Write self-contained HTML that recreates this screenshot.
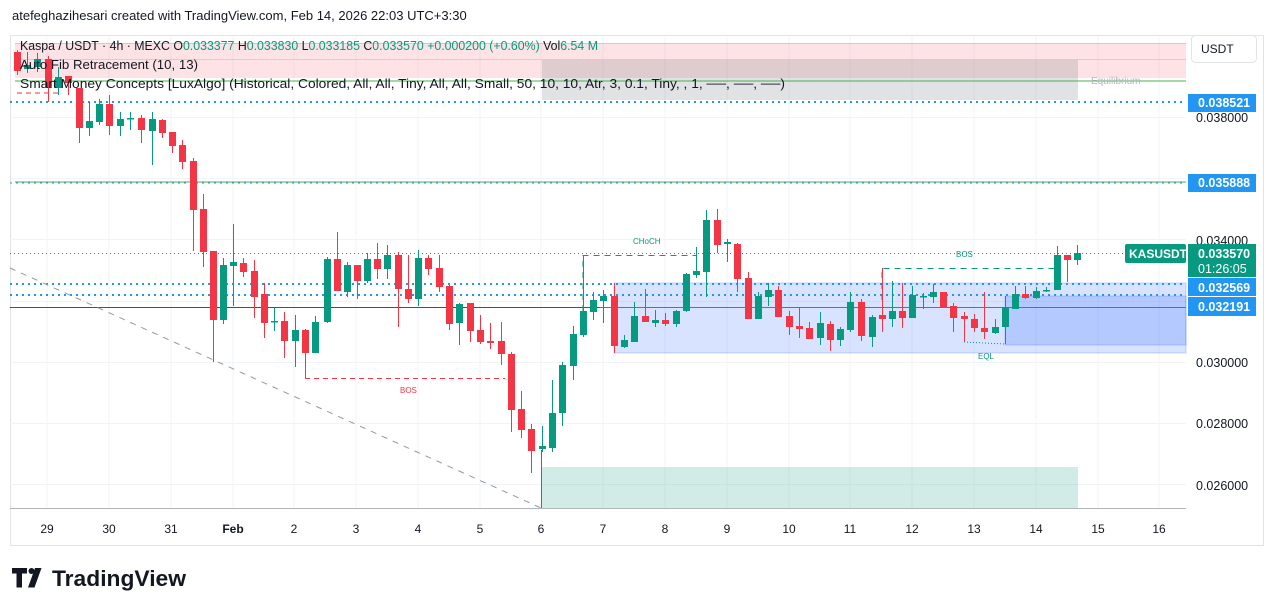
<!DOCTYPE html>
<html><head><meta charset="utf-8"><style>
body{margin:0;width:1272px;height:610px;background:#fff;font-family:"Liberation Sans",sans-serif;overflow:hidden;position:relative}
svg{position:absolute;left:0;top:0}
</style></head><body>
<svg id="s" width="1272" height="610" xmlns="http://www.w3.org/2000/svg" font-family="Liberation Sans, sans-serif">
<text x="12" y="20" font-size="13" fill="#131722">atefeghazihesari created with TradingView.com, Feb 14, 2026 22:03 UTC+3:30</text>
<rect x="10.5" y="35.5" width="1253" height="510" fill="none" stroke="#e0e3eb"/>
<g id="grid" stroke="#f0f3fa" stroke-width="1"></g>
<rect x="15" y="43" width="1171" height="35" fill="rgba(242,54,69,0.14)"/>
<line x1="15" y1="43.5" x2="1186" y2="43.5" stroke="rgba(242,54,69,0.25)"/>
<line x1="15" y1="59.5" x2="1186" y2="59.5" stroke="rgba(242,54,69,0.2)"/>
<rect x="542" y="60" width="536" height="40" fill="rgba(120,123,134,0.22)"/>
<line x1="15" y1="81" x2="1186" y2="81" stroke="#4caf50" stroke-width="1"/>
<text x="1091" y="84" font-size="10" fill="#b2b5be">Equilibrium</text>
<line x1="15" y1="182" x2="1186" y2="182" stroke="#4caf50" stroke-width="1"/>
<line x1="10" y1="102" x2="1186" y2="102" stroke="#2196f3" stroke-width="2" stroke-dasharray="2 4"/>
<line x1="10" y1="183" x2="1186" y2="183" stroke="#2196f3" stroke-width="1" stroke-dasharray="2 4"/>
<line x1="17" y1="93" x2="62" y2="93" stroke="#f23645" stroke-dasharray="5 4"/>
<rect x="614" y="283" width="572" height="70" fill="rgba(41,98,255,0.18)" stroke="rgba(41,98,255,0.25)"/>
<rect x="1005" y="296" width="181" height="49" fill="rgba(41,98,255,0.2)" stroke="rgba(41,98,255,0.25)"/>
<rect x="542" y="467" width="536" height="41" fill="rgba(8,153,129,0.19)"/>
<line x1="10" y1="284" x2="1186" y2="284" stroke="#2196f3" stroke-width="2" stroke-dasharray="2 4"/>
<line x1="10" y1="295" x2="1186" y2="295" stroke="#2196f3" stroke-width="2" stroke-dasharray="2 4"/>
<line x1="10" y1="307.5" x2="1186" y2="307.5" stroke="#5d4a4c" stroke-width="1"/>
<line x1="600" y1="307.5" x2="1186" y2="307.5" stroke="#f23645" stroke-width="1"/>
<line x1="10" y1="253.5" x2="1125" y2="253.5" stroke="#089981" stroke-width="1" stroke-dasharray="1 3"/>
<line x1="10" y1="268" x2="541" y2="508" stroke="#9598a1" stroke-dasharray="6 6"/>
<line x1="305" y1="378.5" x2="505" y2="378.5" stroke="#f23645" stroke-dasharray="5 4"/>
<text x="400" y="393" font-size="8" fill="#f23645">BOS</text>
<polyline points="583,311 583,255.5 696,255.5" fill="none" stroke="#089981" stroke-dasharray="6 5"/>
<text x="633" y="244" font-size="8" fill="#089981">CHoCH</text>
<polyline points="882,300 882,268.5 1057,268.5" fill="none" stroke="#089981" stroke-dasharray="6 5"/>
<text x="956" y="257" font-size="8" fill="#089981">BOS</text>
<line x1="964" y1="342" x2="1005" y2="344" stroke="#089981" stroke-dasharray="1 2"/>
<text x="978" y="359" font-size="8" fill="#089981">EQL</text>
<line x1="541.5" y1="450" x2="541.5" y2="508" stroke="#089981"/>
<g id="c"></g>
<line x1="10" y1="508.5" x2="1186" y2="508.5" stroke="#b2b5be"/>
<g id="xl" font-size="12" fill="#131722" text-anchor="middle"></g>
<g font-size="12.5" fill="#131722">
<text x="1196" y="122">0.038000</text><text x="1196" y="245">0.034000</text>
<text x="1196" y="367">0.030000</text><text x="1196" y="428">0.028000</text><text x="1196" y="490">0.026000</text>
</g>
<rect x="1188" y="94" width="68" height="18" fill="#2196f3"/><text x="1198" y="107" font-size="12.5" font-weight="bold" fill="#fff">0.038521</text>
<rect x="1188" y="174" width="68" height="18" fill="#2196f3"/><text x="1198" y="187" font-size="12.5" font-weight="bold" fill="#fff">0.035888</text>
<rect x="1125" y="244" width="61" height="19" rx="2" fill="#089981"/><text x="1129" y="258" font-size="12" font-weight="bold" fill="#fff">KASUSDT</text>
<rect x="1188" y="244" width="68" height="33" fill="#089981"/><text x="1198" y="258" font-size="12.5" font-weight="bold" fill="#fff">0.033570</text><text x="1198" y="273" font-size="12.5" fill="#fff">01:26:05</text>
<rect x="1188" y="278" width="68" height="18" fill="#2196f3"/><text x="1198" y="292" font-size="12.5" font-weight="bold" fill="#fff">0.032569</text>
<rect x="1188" y="297" width="68" height="19" fill="#2196f3"/><text x="1198" y="311" font-size="12.5" font-weight="bold" fill="#fff">0.032191</text>
<rect x="1191.5" y="35.5" width="65" height="27" rx="4" fill="#fff" stroke="#e0e3eb"/><text x="1201" y="53" font-size="12" fill="#131722">USDT</text>
<g font-size="12.5" fill="#131722">
<text x="20" y="50" textLength="578" lengthAdjust="spacingAndGlyphs">Kaspa / USDT · 4h · MEXC  O<tspan fill="#089981">0.033377</tspan>  H<tspan fill="#089981">0.033830</tspan>  L<tspan fill="#089981">0.033185</tspan>  C<tspan fill="#089981">0.033570</tspan>  <tspan fill="#089981">+0.000200 (+0.60%)</tspan>  Vol<tspan fill="#089981">6.54 M</tspan></text>
<text x="20" y="69" textLength="178" lengthAdjust="spacingAndGlyphs">Auto Fib Retracement (10, 13)</text>
<text x="20" y="88" textLength="765" lengthAdjust="spacingAndGlyphs">Smart Money Concepts [LuxAlgo] (Historical, Colored, All, All, Tiny, All, All, Small, 50, 10, 10, Atr, 3, 0.1, Tiny, , 1, ──, ──, ──)</text>
</g>
<g transform="translate(12,568)" fill="#131722">
<path d="M0 0h15v5.5h-5v14h-5.5V5.5H0z"/><circle cx="19.5" cy="3" r="3"/><path d="M23 0h6.5l-7 19.5h-6.5z"/>
<text x="40" y="18" font-size="22" font-weight="bold" textLength="134" lengthAdjust="spacingAndGlyphs">TradingView</text>
</g>
</svg>
<script>
var ns="http://www.w3.org/2000/svg";
function el(p,t,a,txt){var e=document.createElementNS(ns,t);for(var k in a)e.setAttribute(k,a[k]);if(txt)e.textContent=txt;p.appendChild(e);return e}
var g=document.getElementById('grid');
var days=[["29",47],["30",109],["31",171],["Feb",233],["2",294],["3",356],["4",418],["5",480],["6",541],["7",603],["8",665],["9",727],["10",789],["11",850],["12",912],["13",974],["14",1036],["15",1098],["16",1159]];
days.forEach(function(d){el(g,'line',{x1:d[1],y1:36,x2:d[1],y2:508});el(document.getElementById('xl'),'text',{x:d[1],y:533,'font-weight':d[0]=="Feb"?'bold':'normal'},d[0])});
[117,178,239,301,362,423,484].forEach(function(y){el(g,'line',{x1:10,y1:y+.5,x2:1186,y2:y+.5})});
var C=[[17,52,71,50,75,0],[27,65,69,52,73,1],[37,59,67,53,72,1],[48,59,88,56,102,0],[58,77,88,67,95,1],[68,76,83,76,95,0],[79,88,128,88,143,0],[89,121,128,102,136,1],[99,104,122,99,125,1],[109,104,126,95,135,0],[120,119,126,112,136,1],[130,118,119,112,130,1],[141,118,130,115,143,0],[152,119,131,112,165,1],[162,120,133,119,138,0],[172,132,146,132,153,0],[182,145,162,140,169,0],[193,161,210,158,251,0],[203,209,252,194,267,0],[213,251,320,251,362,0],[223,265,320,258,324,1],[233,262,266,224,306,1],[243,263,272,258,277,0],[254,271,297,260,318,0],[264,294,323,283,338,0],[274,321,322,307,331,1],[284,321,341,312,358,0],[295,330,341,315,367,1],[305,330,353,329,378,0],[315,322,353,316,353,1],[327,259,322,257,323,1],[337,259,291,232,291,0],[347,265,292,262,297,1],[357,265,281,265,299,0],[367,259,281,253,283,1],[377,259,269,243,279,0],[387,255,269,245,279,1],[398,255,289,252,327,0],[408,289,299,255,303,0],[418,258,299,250,306,1],[428,258,269,255,275,0],[439,268,287,255,292,0],[449,286,324,285,330,0],[459,304,323,303,345,1],[470,303,331,303,342,0],[480,330,342,315,344,0],[490,341,343,323,349,0],[501,341,354,322,365,0],[511,354,410,352,432,0],[521,409,430,391,438,0],[531,429,451,424,473,0],[542,446,449,426,452,1],[552,413,448,380,452,1],[562,365,413,362,426,1],[573,334,366,326,380,1],[583,311,335,255,337,1],[593,300,312,292,320,1],[603,296,301,290,323,1],[614,296,346,283,353,0],[624,340,347,335,348,1],[634,316,342,302,342,1],[645,316,322,289,322,0],[655,320,323,310,327,1],[665,320,324,313,326,0],[676,311,324,310,327,1],[686,274,311,273,312,1],[696,271,275,247,278,1],[706,220,272,210,297,1],[717,220,245,209,253,0],[727,242,244,239,262,1],[737,244,279,243,292,0],[748,278,319,272,319,0],[758,296,319,292,319,1],[768,290,297,283,306,1],[778,290,317,286,317,0],[789,316,327,311,335,0],[799,326,329,307,338,0],[809,328,339,322,339,0],[820,323,338,312,345,1],[830,324,340,321,351,0],[840,329,340,327,346,1],[850,302,330,292,332,1],[861,302,336,299,341,0],[872,317,337,315,347,1],[882,315,319,268,332,0],[892,311,319,281,327,1],[902,311,318,283,328,0],[912,295,318,286,318,1],[923,296,297,293,309,1],[933,292,297,284,303,1],[943,292,308,292,308,0],[953,306,318,303,332,0],[964,316,319,312,342,0],[974,319,328,314,332,0],[984,328,332,292,339,0],[995,327,333,319,334,1],[1005,307,327,296,344,1],[1015,294,309,286,309,1],[1025,294,298,286,299,0],[1036,291,298,287,299,1],[1046,290,291,287,292,1],[1057,255,290,246,290,1],[1067,255,260,255,282,0],[1077,253,260,245,265,1]];
var cg=document.getElementById('c');
C.forEach(function(c){var col=c[5]?'#089981':'#f23645';
el(cg,'line',{x1:c[0]+.5,y1:c[3],x2:c[0]+.5,y2:c[4],stroke:col,'stroke-width':1});
el(cg,'rect',{x:c[0]-3,y:c[1],width:7,height:Math.max(1.5,c[2]-c[1]),fill:col});});
</script>
</body></html>
